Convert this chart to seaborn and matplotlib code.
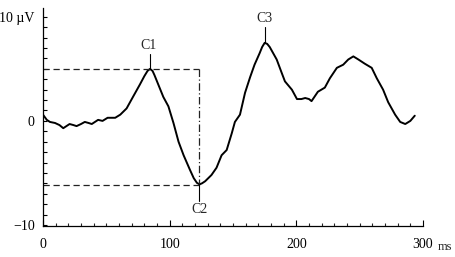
import numpy as np
import pandas as pd
import matplotlib
matplotlib.use("Agg")
import matplotlib.pyplot as plt
import seaborn as sns
from matplotlib.ticker import MultipleLocator

# ---- data ----
time_ms = [0, 3, 5.5, 9.5, 13, 16, 18.5, 21, 24, 26.5, 30, 33, 36, 38.5, 41, 43.5, 47, 51, 54, 57,
           61, 66, 71, 76.5, 80, 82.5, 84.5, 86.5, 88, 90, 95, 99, 103, 107, 111, 116, 119, 121.5,
           123.5, 125.5, 128, 133, 137, 141, 145, 149, 151.5, 155.5, 159.5, 163.5, 167, 171,
           173, 175, 177, 179, 184.5, 188.5, 191, 196.5, 200.5, 204, 207, 210, 212, 217, 222.5,
           226.5, 232, 237, 241, 245, 249, 254, 259.5, 263.5, 268.5, 272.5, 278, 282, 286,
           290, 293.5]
amp_uv = [0.6, 0.1, -0.1, -0.2, -0.4, -0.7, -0.5, -0.3, -0.4, -0.5, -0.3, -0.1, -0.2, -0.3,
          -0.1, 0.1, 0.0, 0.3, 0.3, 0.3, 0.6, 1.2, 2.3, 3.5, 4.3, 4.8, 5.0, 4.8, 4.4, 3.8, 2.3,
          1.4, -0.2, -2.0, -3.3, -4.7, -5.5, -5.95, -6.1, -6.0, -5.8, -5.2, -4.5, -3.3, -2.8,
          -1.2, -0.1, 0.6, 2.7, 4.2, 5.4, 6.5, 7.1, 7.5, 7.4, 7.1, 5.9, 4.6, 3.8, 3.0, 2.1,
          2.1, 2.2, 2.1, 1.9, 2.8, 3.2, 4.1, 5.1, 5.4, 5.9, 6.2, 5.9, 5.5, 5.1, 4.1, 3.0, 1.8,
          0.6, -0.1, -0.3, 0.0, 0.5]

peak_names = ["C1", "C2", "C3"]
peak_time = [84.5, 123.5, 175]
peak_amp = [5.0, -6.2, 7.5]

x_ticks = [0, 100, 200, 300]
x_ticklabels = ["0", "100", "200", "300"]
x_unit = "ms"
y_ticks = [-10, 0, 10]
y_ticklabels = ["\u221210", "0", "10 \u00b5V"]

# ---- style ----
sns.set_theme(style="ticks")
plt.rcParams["font.family"] = ["Liberation Serif", "DejaVu Serif"]

fig = plt.figure(figsize=(4.55, 2.57), dpi=100)
ax = fig.add_axes([43 / 455, 31 / 257, 380 / 455, 218 / 257])

df = pd.DataFrame({"t": time_ms, "v": amp_uv})
sns.lineplot(data=df, x="t", y="v", ax=ax, color="black", linewidth=1.4,
             estimator=None, sort=False)

# dashed guide lines
t2 = peak_time[1]
v1, v2 = peak_amp[0], peak_amp[1]
ax.plot([0, t2], [v1, v1], color="#222222", lw=0.9, ls=(0, (5, 3)))
ax.plot([0, t2], [v2, v2], color="#222222", lw=0.9, ls=(0, (5, 3)))
ax.plot([t2, t2], [v1, v2], color="#222222", lw=0.9, ls=(0, (6, 2, 1, 2)))

# peak markers and labels
ax.plot([peak_time[0]] * 2, [peak_amp[0], peak_amp[0] + 1.4], color="black", lw=0.8)
ax.text(peak_time[0] - 1, peak_amp[0] + 1.6, peak_names[0], ha="center", va="bottom", fontsize=10)
ax.plot([peak_time[1]] * 2, [peak_amp[1] + 0.1, peak_amp[1] - 1.5], color="black", lw=0.8)
ax.text(peak_time[1], peak_amp[1] - 1.7, peak_names[1], ha="center", va="top", fontsize=10)
ax.plot([peak_time[2]] * 2, [peak_amp[2], peak_amp[2] + 1.5], color="black", lw=0.8)
ax.text(peak_time[2], peak_amp[2] + 1.7, peak_names[2], ha="center", va="bottom", fontsize=10)

ax.set_xlim(0, 300)
ax.set_ylim(-10.1, 10.85)
ax.set_xticks(x_ticks)
ax.set_xticklabels(x_ticklabels)
ax.set_yticks(y_ticks)
ax.set_yticklabels(y_ticklabels)
ax.xaxis.set_minor_locator(MultipleLocator(10))
ax.yaxis.set_minor_locator(MultipleLocator(1))
ax.tick_params(axis="x", which="major", direction="in", length=4.5, width=0.8, pad=9,
               labelsize=10, colors="black")
ax.tick_params(axis="x", which="minor", direction="in", length=2.5, width=0.8)
ax.tick_params(axis="y", which="both", direction="in", length=3, width=0.8, pad=6,
               labelsize=10, colors="black")
# unit after the last x tick label, sharing its baseline
ax.annotate(x_unit, xy=(300, -10.1), xycoords="data", xytext=(10.5, -17.5),
            textcoords="offset points", ha="left", va="baseline", fontsize=9)
ax.set_xlabel("")
ax.set_ylabel("")
for s in ["top", "right"]:
    ax.spines[s].set_visible(False)
for s in ["left", "bottom"]:
    ax.spines[s].set_linewidth(0.9)
    ax.spines[s].set_color("black")
ax.patch.set_alpha(0)

fig.savefig("out.png", dpi=100)
